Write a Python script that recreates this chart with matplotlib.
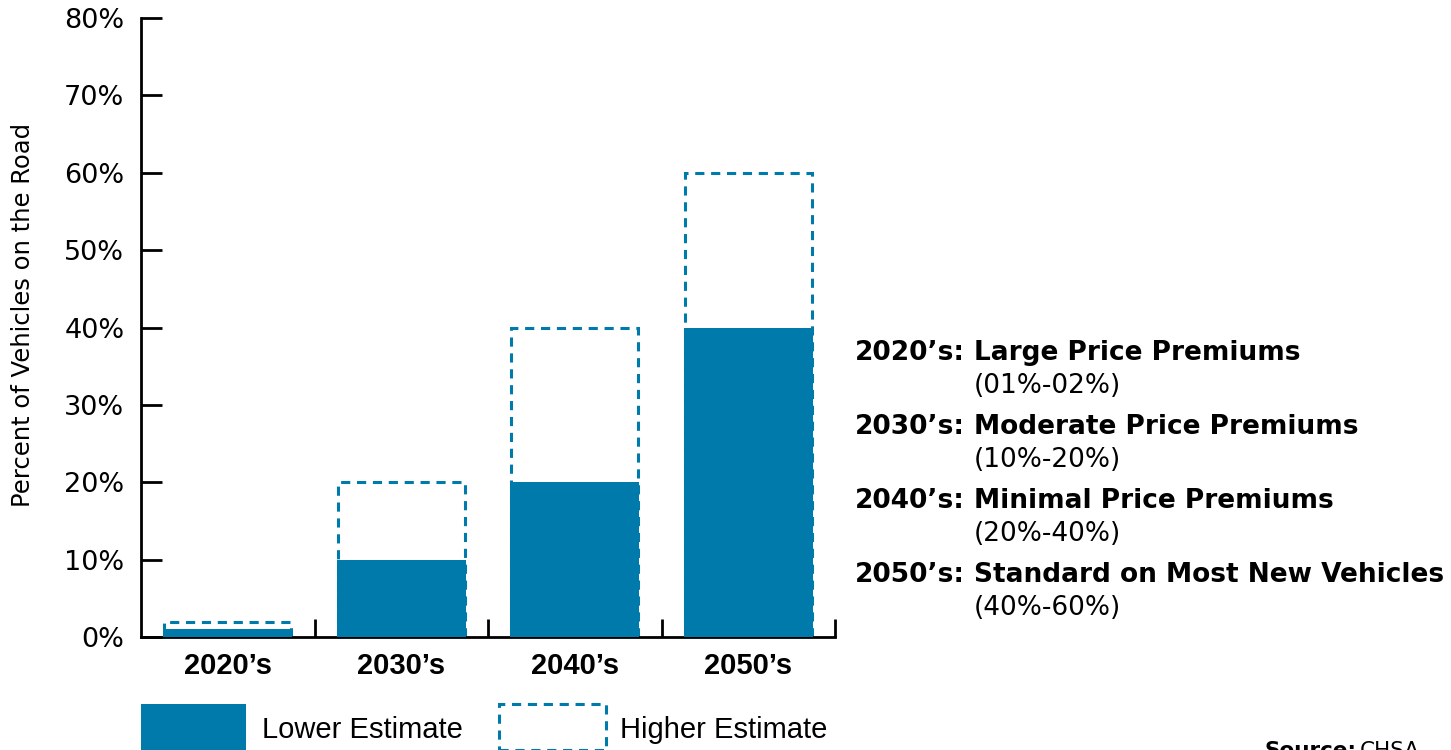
import matplotlib.pyplot as plt
from matplotlib.patches import Rectangle
from matplotlib.ticker import FixedLocator

# data
decades = ["2020\u2019s", "2030\u2019s", "2040\u2019s", "2050\u2019s"]
lower = [1, 10, 20, 40]
higher = [2, 20, 40, 60]
notes = ["Large Price Premiums", "Moderate Price Premiums",
         "Minimal Price Premiums", "Standard on Most New Vehicles"]
ranges = ["(01%-02%)", "(10%-20%)", "(20%-40%)", "(40%-60%)"]

blue = "#0079ab"
W, H = 1451, 750
wide = ['DejaVu Sans']
narrow = ['Liberation Sans', 'DejaVu Sans']

plt.rcParams['font.family'] = narrow

fig = plt.figure(figsize=(W / 100, H / 100), dpi=100)
ax = fig.add_axes([141 / W, 1 - 637 / H, (835 - 141) / W, (637 - 18) / H])

x = list(range(len(decades)))
ax.bar(x, higher, width=0.73, fill=False, edgecolor=blue, linestyle=(0, (3, 2.2)),
       linewidth=2.2, zorder=2)
ax.bar(x, lower, width=0.745, color=blue, zorder=3)

ax.set_xlim(-0.5, 3.5)
ax.set_ylim(0, 80)
ax.set_yticks(range(0, 81, 10))
ax.set_yticklabels([f"{v}%" for v in range(0, 81, 10)], fontsize=19.5, family=wide)
ax.tick_params(axis='y', direction='in', length=15, width=2, pad=12)

ax.set_xticks(x)
ax.set_xticklabels(decades, fontsize=21, fontweight='bold')
ax.tick_params(axis='x', which='major', length=0, pad=11)
ax.xaxis.set_minor_locator(FixedLocator([0.5, 1.5, 2.5, 3.5]))
ax.tick_params(axis='x', which='minor', direction='in', length=13, width=2)

for s in ['top', 'right']:
    ax.spines[s].set_visible(False)
for s in ['left', 'bottom']:
    ax.spines[s].set_linewidth(2)

ax.set_ylabel("Percent of Vehicles on the Road", fontsize=17.5, family=wide)
ax.yaxis.label.set_va('center')
ax.yaxis.set_label_coords((23 - 141) / 694, (637 - 315) / 619)

# notes on the right
ys = [353, 427, 501, 575]
for i in range(len(decades)):
    y = ys[i]
    fig.text(855 / W, 1 - y / H, decades[i] + ":", fontsize=19, fontweight='bold',
             va='center', family=wide)
    fig.text(974 / W, 1 - y / H, notes[i], fontsize=19, fontweight='bold',
             va='center', family=wide)
    fig.text(974 / W, 1 - (y + 33) / H, ranges[i], fontsize=19, va='center', family=wide)

# legend
fig.add_artist(Rectangle((141 / W, 0), 105 / W, 46 / H, transform=fig.transFigure,
                         facecolor=blue, edgecolor='none'))
fig.text(262 / W, 1 - 730 / H, "Lower Estimate", fontsize=21, va='center')
fig.add_artist(Rectangle((499 / W, 0), 107 / W, 46 / H, transform=fig.transFigure,
                         fill=False, edgecolor=blue, linestyle=(0, (3, 2.2)), linewidth=2.2))
fig.text(620 / W, 1 - 730 / H, "Higher Estimate", fontsize=21, va='center')

fig.text(1265 / W, 1 - 741 / H, "Source:", fontsize=15.5, fontweight='bold', va='top', family=wide)
fig.text(1360 / W, 1 - 741 / H, "CHSA", fontsize=15.5, va='top', family=wide)

fig.savefig("out.png", dpi=100)
